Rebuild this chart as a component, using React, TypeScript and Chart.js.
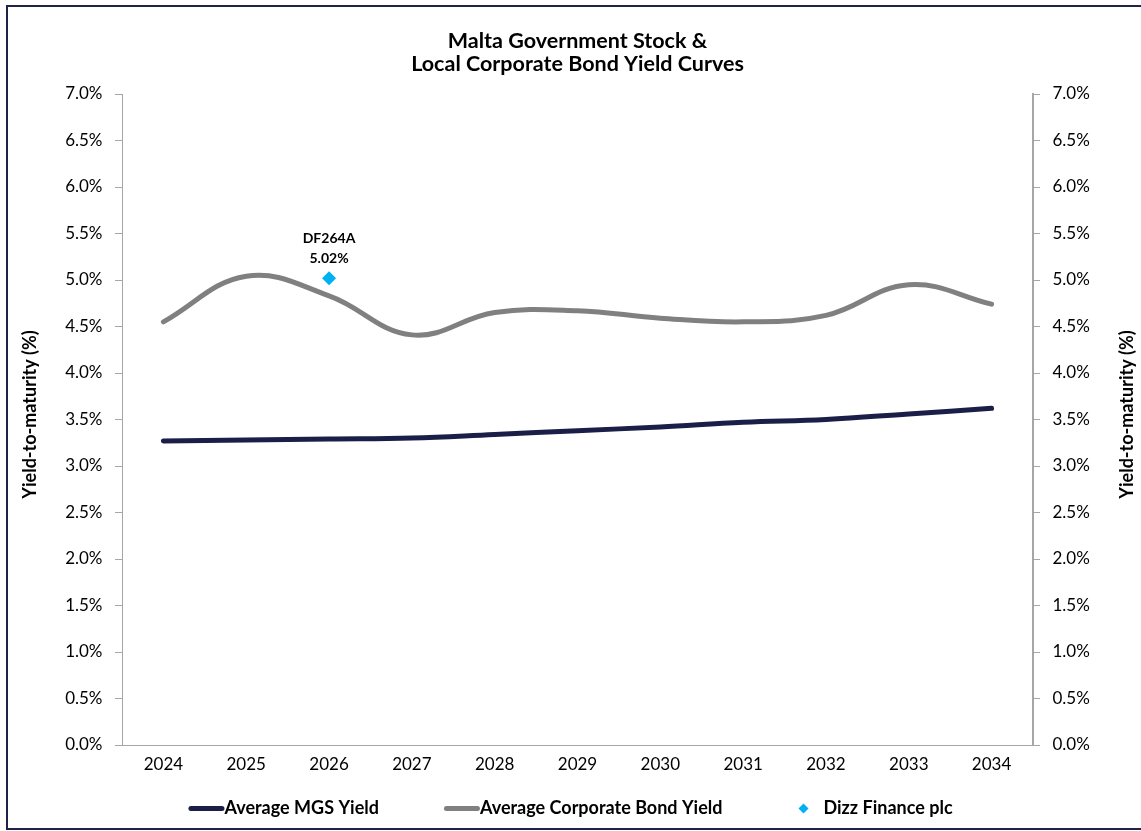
import React, { useEffect, useRef } from 'react';
import { Chart, registerables } from 'chart.js';

Chart.register(...registerables);

// ---------- data ----------
const years = ['2024', '2025', '2026', '2027', '2028', '2029', '2030', '2031', '2032', '2033', '2034'];
const mgsYield = [3.27, 3.28, 3.29, 3.3, 3.34, 3.38, 3.42, 3.47, 3.5, 3.56, 3.62];
const corpYield = [4.55, 5.04, 4.83, 4.41, 4.65, 4.67, 4.59, 4.55, 4.62, 4.95, 4.74];
const dizzYears = ['2026'];
const dizzYield = [5.02];
const dizzCodes = ['DF264A'];
const seriesNames = ['Average MGS Yield', 'Average Corporate Bond Yield', 'Dizz Finance plc'];
const titleLines = ['Malta Government Stock &', 'Local Corporate Bond Yield Curves'];
const axisTitle = 'Yield-to-maturity (%)';
const yMin = 0;
const yMax = 7;
const yStep = 0.5;

// ---------- styles ----------
const FONT = 'Lato';
const mgsColor = '#1B1F48';
const corpColor = '#808080';
const dizzColor = '#00B0F0';
const axisColor = '#A6A6A6';
const frameColor = '#1F2348';

const framePlugin = {
  id: 'frame',
  beforeDraw(chart: any) {
    const ctx = chart.ctx;
    ctx.save();
    ctx.fillStyle = '#ffffff';
    ctx.fillRect(0, 0, chart.width, chart.height);
    ctx.strokeStyle = frameColor;
    ctx.lineWidth = 2;
    ctx.strokeRect(7, 6, 1160, 823);
    ctx.restore();
  },
};

const axisTitlePlugin = {
  id: 'axisTitles',
  afterDraw(chart: any) {
    const ctx = chart.ctx;
    const { top, bottom } = chart.chartArea;
    const cy = (top + bottom) / 2 - 5;
    ctx.save();
    ctx.font = `bold 18px ${FONT}`;
    ctx.fillStyle = '#000';
    ctx.textAlign = 'center';
    ctx.textBaseline = 'middle';
    [chart.scales.y.left + 30, chart.scales.y2.right - 14].forEach((x: number) => {
      ctx.save();
      ctx.translate(x, cy);
      ctx.rotate(-Math.PI / 2);
      ctx.fillText(axisTitle, 0, 0);
      ctx.restore();
    });
    ctx.restore();
  },
};

const pointLabelPlugin = {
  id: 'pointLabels',
  afterDatasetsDraw(chart: any) {
    const meta = chart.getDatasetMeta(2);
    const ctx = chart.ctx;
    ctx.save();
    ctx.font = `bold 14px ${FONT}`;
    ctx.fillStyle = '#000';
    ctx.textAlign = 'center';
    ctx.textBaseline = 'middle';
    meta.data.forEach((el: any, i: number) => {
      ctx.fillText(dizzCodes[i], el.x, el.y - 40);
      ctx.fillText(dizzYield[i].toFixed(2) + '%', el.x, el.y - 20);
    });
    ctx.restore();
  },
};

// Legend laid out like the spreadsheet legend: line symbol touching its text.
const legendPlugin = {
  id: 'sheetLegend',
  afterDraw(chart: any) {
    const ctx = chart.ctx;
    const ds = chart.data.datasets;
    ctx.save();
    ctx.font = `bold 18px ${FONT}`;
    const tw = seriesNames.map((n) => ctx.measureText(n).width);
    const lineLen = 36;
    const gapA = 65;
    const gapB = 76;
    const dSize = 10;
    const dGap = 15;
    const total = lineLen + tw[0] + gapA + lineLen + tw[1] + gapB + dSize + dGap + tw[2];
    let x = chart.width / 2 - total / 2;
    const y = chart.chartArea.bottom + 63.5;
    ctx.textAlign = 'left';
    ctx.textBaseline = 'middle';
    ctx.fillStyle = '#000';
    ctx.lineCap = 'round';
    ctx.lineWidth = 5;
    // item 1
    ctx.strokeStyle = ds[0].borderColor;
    ctx.beginPath();
    ctx.moveTo(x + 2.5, y);
    ctx.lineTo(x + lineLen - 2.5, y);
    ctx.stroke();
    x += lineLen;
    ctx.fillText(seriesNames[0], x, y);
    x += tw[0] + gapA;
    // item 2
    ctx.strokeStyle = ds[1].borderColor;
    ctx.beginPath();
    ctx.moveTo(x + 2.5, y);
    ctx.lineTo(x + lineLen - 2.5, y);
    ctx.stroke();
    x += lineLen;
    ctx.fillText(seriesNames[1], x, y);
    x += tw[1] + gapB;
    // item 3 (diamond)
    const cx = x + dSize / 2;
    const r = dSize / 2;
    ctx.fillStyle = ds[2].backgroundColor;
    ctx.beginPath();
    ctx.moveTo(cx - r, y);
    ctx.lineTo(cx, y - r);
    ctx.lineTo(cx + r, y);
    ctx.lineTo(cx, y + r);
    ctx.closePath();
    ctx.fill();
    x += dSize + dGap;
    ctx.fillStyle = '#000';
    ctx.fillText(seriesNames[2], x, y);
    ctx.restore();
  },
};

export default function App() {
  const ref = useRef<HTMLCanvasElement | null>(null);

  useEffect(() => {
    document.body.style.margin = '0';
    document.body.style.background = '#fff';
    if (!ref.current) return;

    const yTicks = {
      color: '#000',
      padding: 12.5,
      stepSize: yStep,
      font: { family: FONT, size: 17 },
      callback: (v: any) => Number(v).toFixed(1) + '%',
    };
    const yGrid = {
      display: true,
      drawOnChartArea: false,
      drawTicks: true,
      tickLength: 7,
      color: axisColor,
    };

    const chart = new Chart(ref.current, {
      type: 'line',
      data: {
        labels: years,
        datasets: [
          {
            label: seriesNames[0],
            data: mgsYield,
            borderColor: mgsColor,
            backgroundColor: mgsColor,
            borderWidth: 5,
            borderCapStyle: 'round',
            borderJoinStyle: 'round',
            pointRadius: 0,
            tension: 0.4,
            yAxisID: 'y',
          },
          {
            label: seriesNames[1],
            data: corpYield,
            borderColor: corpColor,
            backgroundColor: corpColor,
            borderWidth: 5,
            borderCapStyle: 'round',
            borderJoinStyle: 'round',
            pointRadius: 0,
            tension: 0.4,
            yAxisID: 'y',
          },
          {
            label: seriesNames[2],
            data: dizzYears.map((yr, i) => ({ x: yr, y: dizzYield[i] })) as any,
            showLine: false,
            pointStyle: 'rectRot',
            pointRadius: 7,
            pointBorderWidth: 0,
            backgroundColor: dizzColor,
            borderColor: dizzColor,
            yAxisID: 'y',
          },
        ],
      },
      options: {
        animation: false,
        responsive: false,
        layout: { padding: { left: 0, right: 0, top: 0, bottom: 46 } },
        plugins: {
          title: {
            display: true,
            text: titleLines,
            color: '#000',
            fullSize: false,
            font: { family: FONT, size: 21.5, weight: 'bold', lineHeight: 1.07 },
            padding: { top: 29.5, bottom: 18.5 },
          },
          legend: { display: false },
          tooltip: { enabled: false },
        },
        scales: {
          x: {
            type: 'category',
            offset: true,
            grid: { display: false, drawTicks: false },
            border: { display: true, color: axisColor, width: 1 },
            ticks: { color: '#000', padding: 9.5, font: { family: FONT, size: 17 }, maxRotation: 0, autoSkip: false },
            afterFit: (s: any) => { s.height = 40; },
          },
          y: {
            position: 'left',
            min: yMin,
            max: yMax,
            grid: yGrid,
            border: { display: true, color: axisColor, width: 1 },
            ticks: yTicks,
            afterFit: (s: any) => { s.width = 122; },
          },
          y2: {
            position: 'right',
            min: yMin,
            max: yMax,
            grid: yGrid,
            border: { display: true, color: axisColor, width: 2 },
            ticks: yTicks,
            afterFit: (s: any) => { s.width = 108; },
          },
        },
      } as any,
      plugins: [framePlugin, axisTitlePlugin, pointLabelPlugin, legendPlugin],
    });

    return () => chart.destroy();
  }, []);

  return (
    <div style={{ width: 1141, height: 831, position: 'relative', overflow: 'hidden' }}>
      <canvas ref={ref} width={1141} height={831} style={{ display: 'block' }} />
    </div>
  );
}
